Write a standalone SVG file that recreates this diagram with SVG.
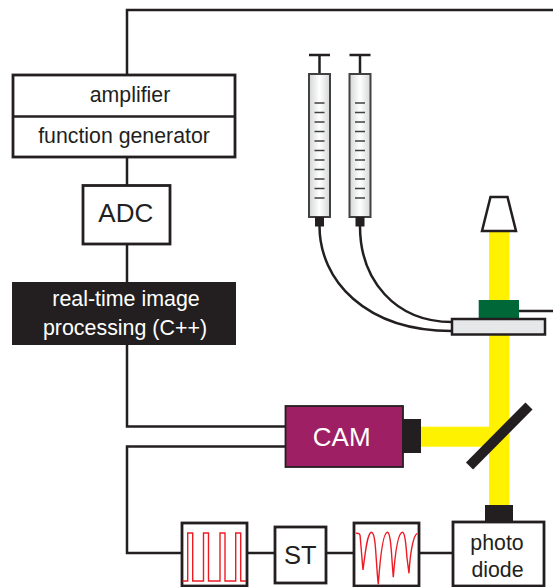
<svg xmlns="http://www.w3.org/2000/svg" width="553" height="587" viewBox="0 0 553 587">
<defs>
<linearGradient id="barrel" x1="0" x2="1" y1="0" y2="0"><stop offset="0" stop-color="#d4d5d6"/><stop offset="0.5" stop-color="#ffffff"/><stop offset="1" stop-color="#d4d5d6"/></linearGradient>
<g id="syringe">
<path d="M-10.500 55H10.500M0 55V74" class="ln"/>
<rect x="-10.500" y="74" width="21" height="143" fill="url(#barrel)" stroke="#414042" stroke-width="2"/>
<path d="M-5 103H5M-5 112.500H5M-5 122H5M-5 131.500H5M-5 141H5M-5 150.500H5M-5 160H5M-5 169.500H5M-5 179H5M-5 188.500H5M-5 198H5" stroke="#414042" stroke-width="1.500" fill="none"/>
<rect x="-4.500" y="217" width="9" height="9.500" fill="#231f20"/>
</g>
</defs>
<style>
text{font-family:"Liberation Sans",Arial,sans-serif;text-anchor:middle;fill:#231f20}
.ln{fill:none;stroke:#231f20;stroke-width:2.500}
.box{fill:#fff;stroke:#231f20;stroke-width:2.800}
.sig{fill:none;stroke:#ed1c24;stroke-width:1.400}
</style>
<rect width="553" height="587" fill="#fff"/>
<g id="beams" fill="#fff200">
<rect x="489" y="231" width="20.500" height="274"/>
<rect x="421" y="426.700" width="78" height="20"/>
</g>
<g id="connectors" class="ln">
<path d="M553 10H127V75"/>
<path d="M127 157V185.500"/>
<path d="M127 244V282"/>
<path d="M127 345V426.500H286"/>
<path d="M286 446.500H127V553H182"/>
<path d="M247 553H275"/>
<path d="M326 553H354"/>
<path d="M419 553H453"/>
<path d="M519 311H553"/>
<path d="M319.500 226C319.500 280 365 331 452 331"/>
<path d="M360 226C360 280 395 322 452 322"/>
</g>
<g id="amplifier">
<rect x="13" y="75" width="222" height="82" class="box"/>
<path d="M13 116.500H235" class="ln"/>
<text x="130" y="102" font-size="21.300">amplifier</text>
<text x="124" y="143" font-size="21.300">function generator</text>
</g>
<g id="adc">
<rect x="83" y="185.500" width="87" height="58.500" class="box"/>
<text x="125.800" y="222" font-size="26">ADC</text>
</g>
<g id="processing">
<rect x="12" y="282" width="224" height="63" fill="#231f20"/>
<text x="126" y="306" font-size="21.400" style="fill:#fff">real-time image</text>
<text x="125" y="335" font-size="21.400" style="fill:#fff">processing (C++)</text>
</g>
<g id="syringe1"><use href="#syringe" x="319.500"/></g>
<g id="syringe2"><use href="#syringe" x="360"/></g>
<g id="lamp"><path d="M490.500 197H507.500L516 231H482Z" fill="#fff" stroke="#231f20" stroke-width="2.500"/></g>
<g id="chip">
<rect x="478.700" y="300" width="40.300" height="19" fill="#006838"/>
<rect x="452" y="319" width="93" height="15.500" fill="#e6e7e8" stroke="#231f20" stroke-width="2.500"/>
</g>
<g id="cam">
<rect x="285.500" y="406" width="117.500" height="61" fill="#9e1f63" stroke="#231f20" stroke-width="1.800"/>
<rect x="402" y="419" width="19" height="34" fill="#231f20"/>
<text x="341.700" y="446" font-size="26" style="fill:#fff">CAM</text>
</g>
<g id="mirror"><path d="M469.500 466L529 406" stroke="#231f20" stroke-width="10" fill="none"/></g>
<g id="pulse">
<rect x="182" y="523" width="65" height="63" class="box"/>
<path d="M182.500 581H187.700V533H192.700V581H203.500V533H208.500V581H220V533H225V581H235.700V533H240.700V581H246" class="sig"/>
</g>
<g id="st">
<rect x="275" y="527" width="51" height="56" class="box"/>
<text x="300.200" y="564" font-size="25.500">ST</text>
</g>
<g id="trace">
<rect x="354" y="523" width="65" height="63" class="box"/>
<path d="M356 533.300C358 533 359.500 533.500 360 535C361 545 362 560 363 570C365 555 367 534 371 532.300C374 532 375 540 376 555C377 570 377.500 578 378.300 584.300C380 560 383 533 387.300 532.300C390 532 391 545 392 560C392.500 568 393 573 393.300 577.300C395 555 398 533 402.300 532.300C405 532 406 545 407 558C408 566 408.500 570 409 573.300C410 555 413 535 417.300 533.300" class="sig"/>
</g>
<g id="photodiode">
<rect x="453" y="522" width="91" height="64" class="box"/>
<rect x="485" y="505" width="28" height="17" fill="#231f20"/>
<text x="497" y="550" font-size="21.300">photo</text>
<text x="497.500" y="577" font-size="21.300">diode</text>
</g>
</svg>
